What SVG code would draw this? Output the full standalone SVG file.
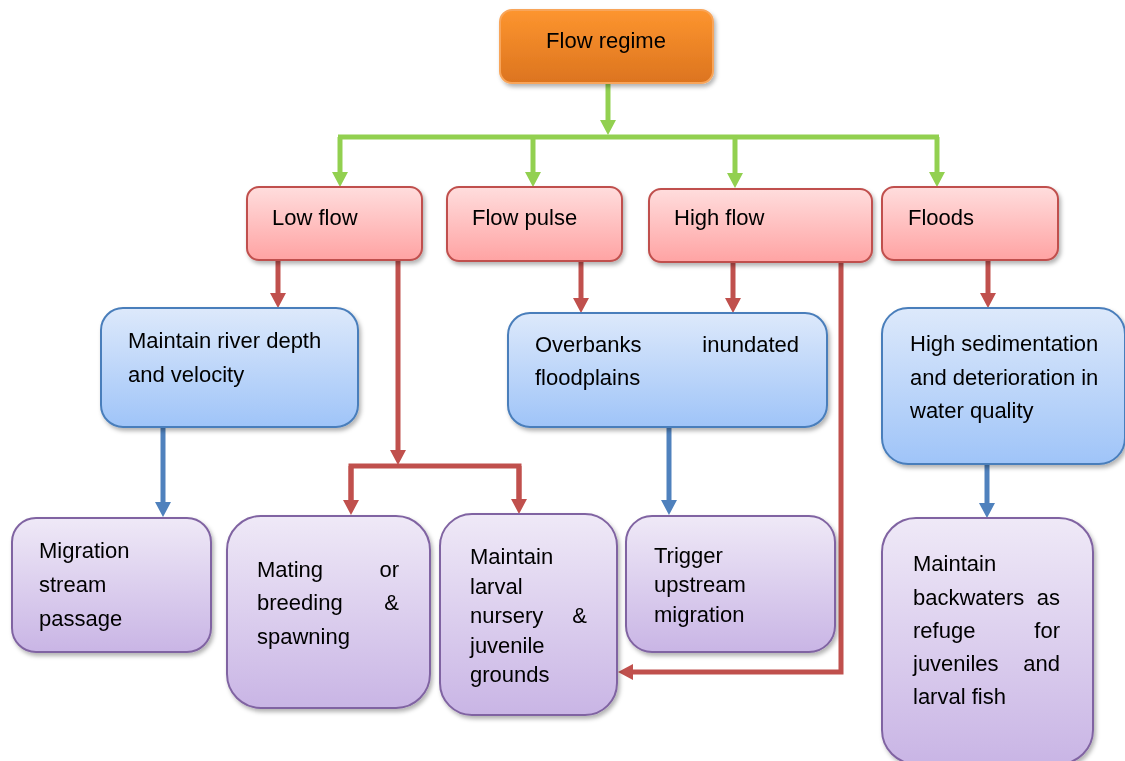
<svg xmlns="http://www.w3.org/2000/svg" width="1125" height="761" viewBox="0 0 1125 761">
<style>
text{font-family:"Liberation Sans",Arial,sans-serif;font-size:22px;fill:#000}
.or{fill:url(#gO);stroke:#f8a55a;stroke-width:2}
.pk{fill:url(#gP);stroke:#c0504d;stroke-width:2}
.bl{fill:url(#gB);stroke:#4a7ebb;stroke-width:2}
.pu{fill:url(#gU);stroke:#8064a2;stroke-width:2}
.g{stroke:#92d050;stroke-width:5;fill:none}
.r{stroke:#c0504d;stroke-width:5;fill:none}
.b{stroke:#4f81bd;stroke-width:5;fill:none}
</style>
<defs>
<linearGradient id="gO" x1="0" y1="0" x2="0" y2="1"><stop offset="0" stop-color="#fd952f"/><stop offset="1" stop-color="#dc741f"/></linearGradient>
<linearGradient id="gP" x1="0" y1="0" x2="0" y2="1"><stop offset="0" stop-color="#ffdddd"/><stop offset="1" stop-color="#ffa3a3"/></linearGradient>
<linearGradient id="gB" x1="0" y1="0" x2="0" y2="1"><stop offset="0" stop-color="#dde9fb"/><stop offset="1" stop-color="#9fc4f8"/></linearGradient>
<linearGradient id="gU" x1="0" y1="0" x2="0" y2="1"><stop offset="0" stop-color="#efe9f7"/><stop offset="1" stop-color="#c9b5e5"/></linearGradient>
<filter id="sh" x="-10%" y="-10%" width="130%" height="130%"><feDropShadow dx="2" dy="3" stdDeviation="2" flood-color="#000" flood-opacity="0.3"/></filter>
<marker id="ag" viewBox="0 0 15 16" markerWidth="15" markerHeight="16" refX="5" refY="8" orient="auto" markerUnits="userSpaceOnUse"><path d="M0,0 L15,8 L0,16 z" fill="#92d050"/></marker>
<marker id="ar" viewBox="0 0 15 16" markerWidth="15" markerHeight="16" refX="5" refY="8" orient="auto" markerUnits="userSpaceOnUse"><path d="M0,0 L15,8 L0,16 z" fill="#c0504d"/></marker>
<marker id="ab" viewBox="0 0 15 16" markerWidth="15" markerHeight="16" refX="5" refY="8" orient="auto" markerUnits="userSpaceOnUse"><path d="M0,0 L15,8 L0,16 z" fill="#4f81bd"/></marker>
</defs>

<g id="connectors">
<path class="g" d="M608,83 V125" marker-end="url(#ag)"/>
<path class="g" d="M338,137 H939"/>
<path class="g" d="M340,137 V177" marker-end="url(#ag)"/>
<path class="g" d="M533,137 V177" marker-end="url(#ag)"/>
<path class="g" d="M735,137 V178" marker-end="url(#ag)"/>
<path class="g" d="M937,137 V177" marker-end="url(#ag)"/>
<path class="r" d="M278,260 V298" marker-end="url(#ar)"/>
<path class="r" d="M398,257 V455" marker-end="url(#ar)"/>
<path class="r" d="M351,500 V466 H519 V500"/>
<path class="r" d="M351,466 V505" marker-end="url(#ar)"/>
<path class="r" d="M519,466 V504" marker-end="url(#ar)"/>
<path class="r" d="M581,261 V303" marker-end="url(#ar)"/>
<path class="r" d="M733,262 V303" marker-end="url(#ar)"/>
<path class="r" d="M841,258 V672 H628" marker-end="url(#ar)"/>
<path class="r" d="M988,260 V298" marker-end="url(#ar)"/>
<path class="b" d="M163,427 V507" marker-end="url(#ab)"/>
<path class="b" d="M669,427 V505" marker-end="url(#ab)"/>
<path class="b" d="M987,464 V508" marker-end="url(#ab)"/>
</g>

<g id="flow-regime" filter="url(#sh)"><rect class="or" x="500" y="10" width="213" height="73" rx="12"/><text x="606" y="48" text-anchor="middle">Flow regime</text></g>

<g id="low-flow" filter="url(#sh)"><rect class="pk" x="247" y="187" width="175" height="73" rx="12"/><text x="272" y="225">Low flow</text></g>
<g id="flow-pulse" filter="url(#sh)"><rect class="pk" x="447" y="187" width="175" height="74" rx="12"/><text x="472" y="225">Flow pulse</text></g>
<g id="high-flow" filter="url(#sh)"><rect class="pk" x="649" y="189" width="223" height="73" rx="12"/><text x="674" y="225">High flow</text></g>
<g id="floods" filter="url(#sh)"><rect class="pk" x="882" y="187" width="176" height="73" rx="12"/><text x="908" y="225">Floods</text></g>

<g id="river-depth" filter="url(#sh)"><rect class="bl" x="101" y="308" width="257" height="119" rx="22"/><text x="128" y="348">Maintain river depth</text><text x="128" y="382">and velocity</text></g>
<g id="overbanks" filter="url(#sh)"><rect class="bl" x="508" y="313" width="319" height="114" rx="22"/><text x="535" y="352">Overbanks</text><text x="799" y="352" text-anchor="end">inundated</text><text x="535" y="385">floodplains</text></g>
<g id="sedimentation" filter="url(#sh)"><rect class="bl" x="882" y="308" width="243" height="156" rx="26"/><text x="910" y="351">High sedimentation</text><text x="910" y="385">and deterioration in</text><text x="910" y="418">water quality</text></g>

<g id="migration" filter="url(#sh)"><rect class="pu" x="12" y="518" width="199" height="134" rx="24"/><text x="39" y="558">Migration</text><text x="39" y="592">stream</text><text x="39" y="626">passage</text></g>
<g id="mating" filter="url(#sh)"><rect class="pu" x="227" y="516" width="203" height="192" rx="34"/><text x="257" y="577">Mating</text><text x="399" y="577" text-anchor="end">or</text><text x="257" y="610">breeding</text><text x="399" y="610" text-anchor="end">&amp;</text><text x="257" y="644">spawning</text></g>
<g id="larval" filter="url(#sh)"><rect class="pu" x="440" y="514" width="177" height="201" rx="32"/><text x="470" y="564">Maintain</text><text x="470" y="594">larval</text><text x="470" y="623">nursery</text><text x="587" y="623" text-anchor="end">&amp;</text><text x="470" y="653">juvenile</text><text x="470" y="682">grounds</text></g>
<g id="trigger" filter="url(#sh)"><rect class="pu" x="626" y="516" width="209" height="136" rx="26"/><text x="654" y="563">Trigger</text><text x="654" y="592">upstream</text><text x="654" y="622">migration</text></g>
<g id="backwaters" filter="url(#sh)"><rect class="pu" x="882" y="518" width="211" height="246" rx="34"/><text x="913" y="571">Maintain</text><text x="913" y="605">backwaters</text><text x="1060" y="605" text-anchor="end">as</text><text x="913" y="638">refuge</text><text x="1060" y="638" text-anchor="end">for</text><text x="913" y="671">juveniles</text><text x="1060" y="671" text-anchor="end">and</text><text x="913" y="704">larval fish</text></g>
</svg>
